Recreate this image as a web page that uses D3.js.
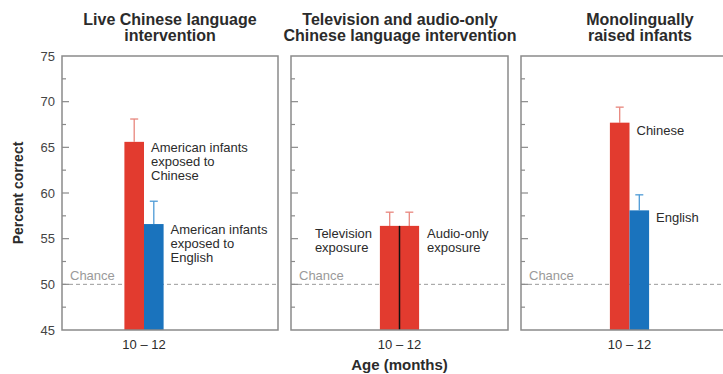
<!DOCTYPE html>
<html>
<head>
<meta charset="utf-8">
<script src="https://cdn.jsdelivr.net/npm/d3@7"></script>
<style>
  html, body { margin: 0; padding: 0; background: #fff; }
  svg { display: block; font-family: "Liberation Sans", Arial, sans-serif; }
</style>
</head>
<body>
<svg id="chart" width="723" height="374"></svg>
<script>
// ---- data ----
const panelTitles = [
  ["Live Chinese language", "intervention"],
  ["Television and audio-only", "Chinese language intervention"],
  ["Monolingually", "raised infants"]
];
const ageGroup = "10 \u2013 12";
const chanceLevel = 50;
const yTicksMajor = [45, 50, 55, 60, 65, 70, 75];
const yTicksMinor = [47.5, 52.5, 57.5, 62.5, 67.5, 72.5];

// bar means (percent correct) and error-bar sizes
const liveBars = ["Chinese", "English"];
const liveMeans = [65.6, 56.6];
const liveErrors = [2.5, 2.5];
const liveLabels = [["American infants", "exposed to", "Chinese"], ["American infants", "exposed to", "English"]];

const mediaBars = ["Television", "Audio-only"];
const mediaMeans = [56.4, 56.4];
const mediaErrors = [1.5, 1.5];
const mediaLabels = [["Television", "exposure"], ["Audio-only", "exposure"]];

const monoBars = ["Chinese", "English"];
const monoMeans = [67.7, 58.1];
const monoErrors = [1.7, 1.7];
const monoLabels = [["Chinese"], ["English"]];

// ---- styling / layout ----
const RED = "#e23b2f", BLUE = "#1a73bd";
const RED_ERR = "#e8867d", BLUE_ERR = "#4d9ad6";
const FRAME = "#8a8a8a", TEXT = "#2b2b2b";

const svg = d3.select("#chart");
const y = d3.scaleLinear().domain([45, 75]).range([330, 56]);

const panels = [
  { x0: 62, x1: 278, groupCenter: 144, bars: liveBars, means: liveMeans, errs: liveErrors,
    colors: [RED, BLUE], errColors: [RED_ERR, BLUE_ERR], labels: liveLabels, divider: false,
    labelPos: [{dx: 7, anchor: "start", dyTop: 10}, {dx: 7, anchor: "start", dyTop: 10}] , titleX: 170},
  { x0: 291, x1: 508, groupCenter: 399.5, bars: mediaBars, means: mediaMeans, errs: mediaErrors,
    colors: [RED, RED], errColors: [RED_ERR, RED_ERR], labels: mediaLabels, divider: true,
    labelPos: [{dx: -65, anchor: "start", dyTop: 12}, {dx: 8, anchor: "start", dyTop: 12}], titleX: 400 },
  { x0: 521, x1: 738, groupCenter: 629.5, bars: monoBars, means: monoMeans, errs: monoErrors,
    colors: [RED, BLUE], errColors: [RED_ERR, BLUE_ERR], labels: monoLabels, divider: false,
    labelPos: [{dx: 7, anchor: "start", dyTop: 12}, {dx: 7, anchor: "start", dyTop: 12}], titleX: 640 }
];

const barWidth = 19.6;

panels.forEach((p, pi) => {
  const g = svg.append("g");
  const x = d3.scaleBand()
    .domain(p.bars)
    .range([p.groupCenter - barWidth, p.groupCenter + barWidth])
    .paddingInner(0).paddingOuter(0);

  // chance line
  g.append("line")
    .attr("x1", p.x0).attr("x2", Math.min(p.x1, 723))
    .attr("y1", y(chanceLevel)).attr("y2", y(chanceLevel))
    .attr("stroke", "#9a9a9a").attr("stroke-width", 1)
    .attr("stroke-dasharray", "4,3");
  g.append("text")
    .attr("x", p.x0 + 8).attr("y", y(chanceLevel) - 4)
    .attr("fill", "#9a9a9a").attr("font-size", 13)
    .text("Chance");

  // error bars
  p.bars.forEach((b, i) => {
    const cx = x(b) + x.bandwidth() / 2;
    const top = y(p.means[i] + p.errs[i]);
    g.append("line").attr("x1", cx).attr("x2", cx)
      .attr("y1", y(p.means[i])).attr("y2", top)
      .attr("stroke", p.errColors[i]).attr("stroke-width", 1.3);
    g.append("line").attr("x1", cx - 4).attr("x2", cx + 4)
      .attr("y1", top).attr("y2", top)
      .attr("stroke", p.errColors[i]).attr("stroke-width", 1.3);
  });

  // bars
  g.selectAll("rect.bar").data(p.bars).enter().append("rect")
    .attr("class", "bar")
    .attr("x", d => x(d))
    .attr("width", x.bandwidth())
    .attr("y", (d, i) => y(p.means[i]))
    .attr("height", (d, i) => y(45) - y(p.means[i]))
    .attr("fill", (d, i) => p.colors[i]);

  if (p.divider) {
    g.append("line")
      .attr("x1", p.groupCenter).attr("x2", p.groupCenter)
      .attr("y1", y(d3.min(p.means))).attr("y2", y(45))
      .attr("stroke", "#111").attr("stroke-width", 1.5);
  }

  // bar labels
  p.bars.forEach((b, i) => {
    const lp = p.labelPos[i];
    const bx = i === 0 && p.divider ? x(b) + lp.dx - 0 : x(b) + x.bandwidth() + lp.dx;
    const t = g.append("text")
      .attr("fill", TEXT).attr("font-size", 13)
      .attr("text-anchor", lp.anchor);
    p.labels[i].forEach((line, li) => {
      t.append("tspan").attr("x", bx)
        .attr("y", y(p.means[i]) + lp.dyTop + li * 14)
        .text(line);
    });
  });

  // frame
  g.append("rect")
    .attr("x", p.x0).attr("y", y(75))
    .attr("width", p.x1 - p.x0).attr("height", y(45) - y(75))
    .attr("fill", "none").attr("stroke", FRAME).attr("stroke-width", 1.5);

  // inward ticks
  g.selectAll("line.major").data(yTicksMajor.slice(1, -1)).enter().append("line")
    .attr("x1", p.x0).attr("x2", p.x0 + 7)
    .attr("y1", d => y(d)).attr("y2", d => y(d))
    .attr("stroke", FRAME).attr("stroke-width", 1.2);
  g.selectAll("line.minor").data(yTicksMinor).enter().append("line")
    .attr("x1", p.x0).attr("x2", p.x0 + 4)
    .attr("y1", d => y(d)).attr("y2", d => y(d))
    .attr("stroke", FRAME).attr("stroke-width", 1.2);

  // x category label
  g.append("text")
    .attr("x", p.groupCenter).attr("y", 349)
    .attr("text-anchor", "middle").attr("fill", TEXT).attr("font-size", 13)
    .text(ageGroup);

  // panel title
  const tt = g.append("text")
    .attr("text-anchor", "middle").attr("fill", TEXT)
    .attr("font-size", 16).attr("font-weight", "bold");
  panelTitles[pi].forEach((line, li) => {
    tt.append("tspan").attr("x", p.titleX).attr("y", 25 + li * 16).text(line);
  });
});

// y tick labels on the first panel
svg.append("g").selectAll("text").data(yTicksMajor).enter().append("text")
  .attr("x", 55).attr("y", d => y(d) + 4.5)
  .attr("text-anchor", "end").attr("fill", "#444").attr("font-size", 13)
  .text(d => d);

// axis titles
svg.append("text")
  .attr("transform", `translate(23, ${y(60)}) rotate(-90)`)
  .attr("text-anchor", "middle").attr("fill", TEXT)
  .attr("font-size", 14).attr("font-weight", "bold")
  .text("Percent correct");

svg.append("text")
  .attr("x", 399.5).attr("y", 370)
  .attr("text-anchor", "middle").attr("fill", TEXT)
  .attr("font-size", 15).attr("font-weight", "bold")
  .text("Age (months)");
</script>
</body>
</html>
